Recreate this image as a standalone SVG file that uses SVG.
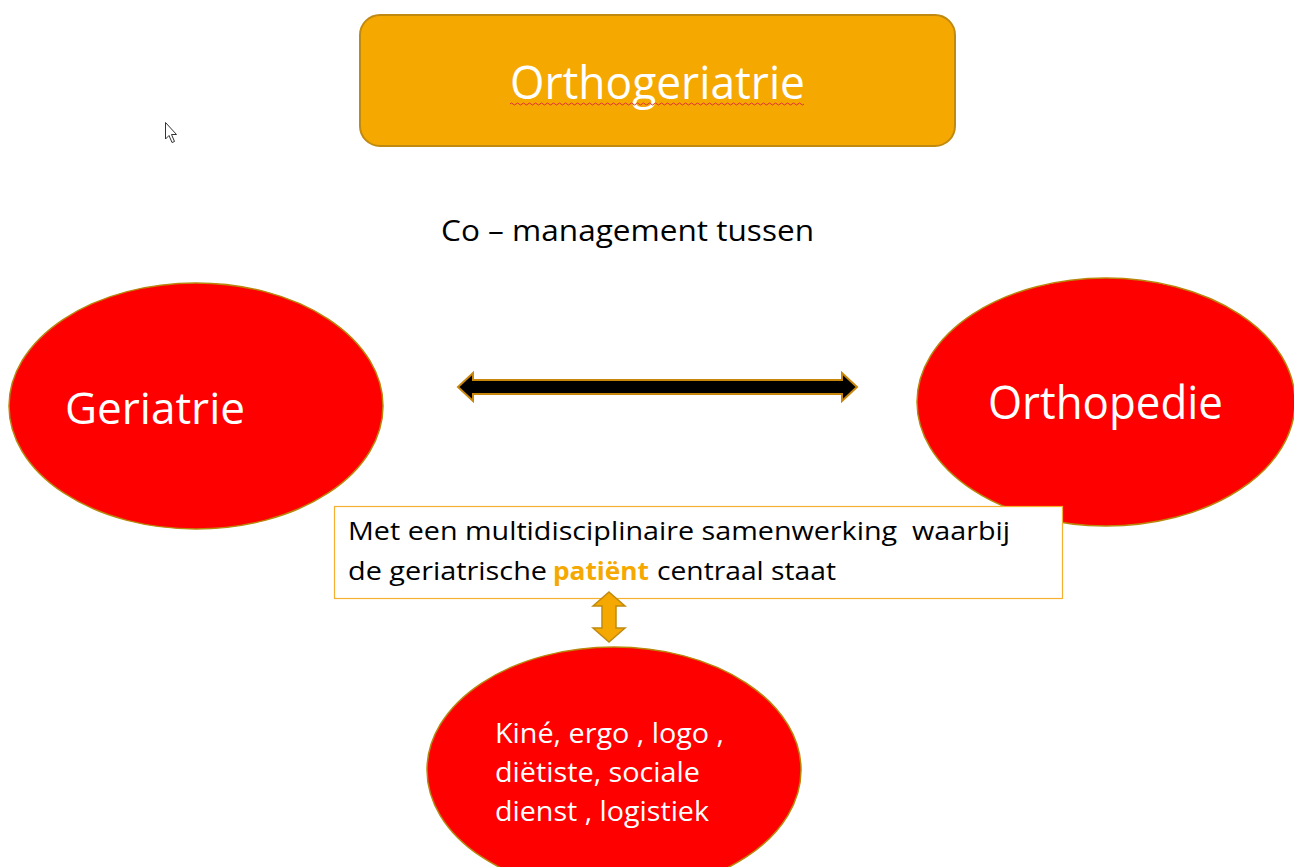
<svg xmlns="http://www.w3.org/2000/svg" width="1294" height="867" viewBox="0 0 1294 867">
<style>
.t{font-family:"Open Sans","Noto Sans","Liberation Sans",sans-serif}
.w{fill:#ffffff}
.k{fill:#000000}
.oval{fill:#ff0000;stroke:#b8860b;stroke-width:1.5}
</style>
<rect width="1294" height="867" fill="#ffffff"/>
<g id="cursor">
<path d="M165.5 122.5 L165.5 139 L169 135.5 L172 142.5 L174.5 141.5 L171.5 134.5 L176.5 134.5 Z" fill="#ffffff" stroke="#333333" stroke-width="1"/>
</g>
<g id="title">
<rect x="360" y="15" width="595" height="131" rx="20" ry="20" fill="#f5a800" stroke="#c08a10" stroke-width="2"/>
<text class="t w" x="510" y="99" font-size="45" textLength="295" lengthAdjust="spacingAndGlyphs">Orthogeriatrie</text>
<path d="M510 104 q1.5 -2 3 0 t3 0 t3 0 t3 0 t3 0 t3 0 t3 0 t3 0 t3 0 t3 0 t3 0 t3 0 t3 0 t3 0 t3 0 t3 0 t3 0 t3 0 t3 0 t3 0 t3 0 t3 0 t3 0 t3 0 t3 0 t3 0 t3 0 t3 0 t3 0 t3 0 t3 0 t3 0 t3 0 t3 0 t3 0 t3 0 t3 0 t3 0 t3 0 t3 0 t3 0 t3 0 t3 0 t3 0 t3 0 t3 0 t3 0 t3 0 t3 0 t3 0 t3 0 t3 0 t3 0 t3 0 t3 0 t3 0 t3 0 t3 0 t3 0 t3 0 t3 0 t3 0 t3 0 t3 0 t3 0 t3 0 t3 0 t3 0 t3 0 t3 0 t3 0 t3 0 t3 0 t3 0 t3 0 t3 0 t3 0 t3 0 t3 0 t3 0 t3 0 t3 0 t3 0 t3 0 t3 0 t3 0 t3 0 t3 0 t3 0 t3 0 t3 0 t3 0 t3 0 t3 0 t3 0 t3 0 t3 0 t3 0" fill="none" stroke="#e03030" stroke-width="1"/>
</g>
<g id="subtitle">
<text class="t k" x="441" y="241" font-size="29" textLength="373" lengthAdjust="spacingAndGlyphs">Co – management tussen</text>
</g>
<g id="geriatrie">
<ellipse class="oval" cx="196" cy="406" rx="187" ry="123"/>
<text class="t w" x="65" y="424" font-size="44" textLength="180" lengthAdjust="spacingAndGlyphs">Geriatrie</text>
</g>
<g id="orthopedie">
<ellipse class="oval" cx="1106" cy="402" rx="189" ry="124"/>
<text class="t w" x="988" y="419" font-size="45" textLength="235" lengthAdjust="spacingAndGlyphs">Orthopedie</text>
</g>
<g id="samenwerking">
<rect x="334.5" y="506.5" width="728" height="92" fill="#ffffff" stroke="#f5b030" stroke-width="1.2"/>
<text class="t k" x="348" y="540" font-size="25" xml:space="preserve" textLength="662" lengthAdjust="spacingAndGlyphs">Met een multidisciplinaire samenwerking  waarbij</text>
<text class="t k" x="348" y="580" font-size="25" textLength="199" lengthAdjust="spacingAndGlyphs">de geriatrische</text>
<text class="t" x="553" y="580" font-size="25" font-weight="bold" fill="#f5a800" textLength="96" lengthAdjust="spacingAndGlyphs">patiënt</text>
<text class="t k" x="657" y="580" font-size="25" textLength="179" lengthAdjust="spacingAndGlyphs">centraal staat</text>
</g>
<g id="disciplines">
<ellipse class="oval" cx="614" cy="770" rx="187" ry="123"/>
<text class="t w" x="495" y="743" font-size="27" textLength="229" lengthAdjust="spacingAndGlyphs">Kiné, ergo , logo ,</text>
<text class="t w" x="495" y="782" font-size="27" textLength="205" lengthAdjust="spacingAndGlyphs">diëtiste, sociale</text>
<text class="t w" x="495" y="821" font-size="27" textLength="214" lengthAdjust="spacingAndGlyphs">dienst , logistiek</text>
</g>
<g id="connectors">
<path d="M458 387 L473 373 L473 380 L842 380 L842 373 L857 387 L842 401 L842 394 L473 394 L473 401 Z" fill="#000000" stroke="#c8860a" stroke-width="2" stroke-linejoin="miter"/>
<path d="M609 592 L625 606 L616 606 L616 628 L625 628 L609 642 L593 628 L602 628 L602 606 L593 606 Z" fill="#f5a800" stroke="#c08a10" stroke-width="1.5"/>
</g>
</svg>
